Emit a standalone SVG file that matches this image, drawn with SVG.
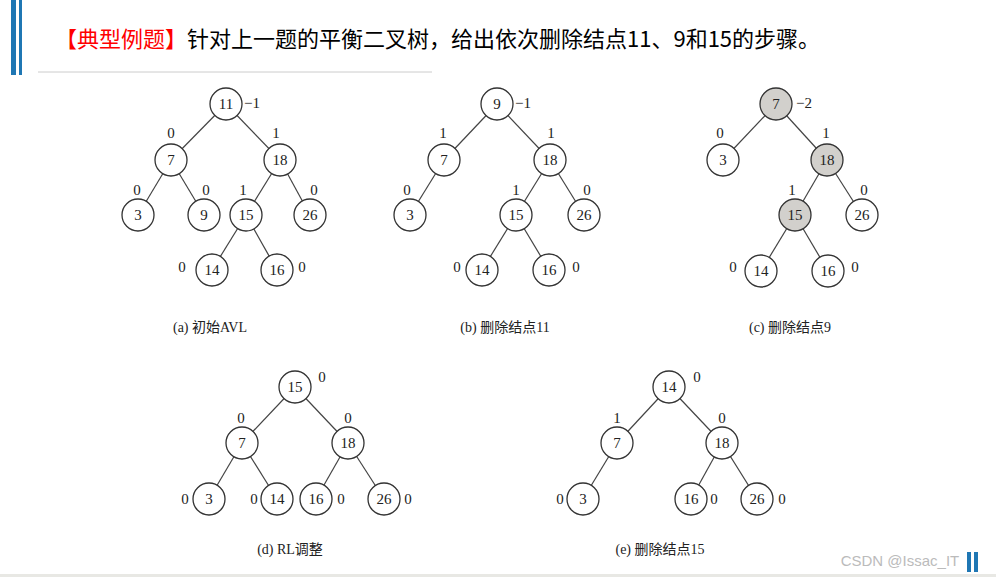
<svg xmlns="http://www.w3.org/2000/svg" width="996" height="577" viewBox="0 0 996 577">
<style>
.n circle{fill:#fff;stroke:#333;stroke-width:1.3}
.g circle{fill:#d2d0cc}
text{font-family:"Liberation Serif",serif;font-size:15px;fill:#222;text-anchor:middle;dominant-baseline:central}
.cap{font-family:"Liberation Serif","Noto Sans CJK SC",serif;font-size:14px}
#edges line{stroke:#444;stroke-width:1.2}
</style>
<rect width="996" height="577" fill="#fff"/>
<rect x="11" y="0" width="5" height="75" fill="#1f77b4"/>
<rect x="19" y="0" width="3" height="75" fill="#1f77b4"/>
<line x1="38" y1="72" x2="432" y2="72" stroke="#ccc"/>
<rect x="0" y="574" width="996" height="3" fill="#e8e8e4"/>
<text x="55" y="37" style="font-family:'Noto Sans CJK SC',sans-serif;font-size:22px;text-anchor:start"><tspan fill="#f00">【典型例题】</tspan><tspan fill="#000">针对上一题的平衡二叉树，给出依次删除结点11、9和15的步骤。</tspan></text>
<g id="edges">
<line x1="226" y1="104" x2="171" y2="160"/><line x1="226" y1="104" x2="280" y2="160"/><line x1="171" y1="160" x2="138" y2="215"/><line x1="171" y1="160" x2="204" y2="215"/><line x1="280" y1="160" x2="246" y2="215"/><line x1="280" y1="160" x2="310" y2="215"/><line x1="246" y1="215" x2="212" y2="270"/><line x1="246" y1="215" x2="277" y2="270"/>
<line x1="497" y1="104" x2="444" y2="160"/><line x1="497" y1="104" x2="550" y2="160"/><line x1="444" y1="160" x2="410" y2="215"/><line x1="550" y1="160" x2="516" y2="215"/><line x1="550" y1="160" x2="584" y2="215"/><line x1="516" y1="215" x2="482" y2="270"/><line x1="516" y1="215" x2="549" y2="270"/>
<line x1="776" y1="104" x2="723" y2="160"/><line x1="776" y1="104" x2="827" y2="160"/><line x1="827" y1="160" x2="795" y2="215"/><line x1="827" y1="160" x2="862" y2="215"/><line x1="795" y1="215" x2="761" y2="271"/><line x1="795" y1="215" x2="828" y2="271"/>
<line x1="295" y1="387" x2="242" y2="443"/><line x1="295" y1="387" x2="348" y2="443"/><line x1="242" y1="443" x2="209" y2="499"/><line x1="242" y1="443" x2="277" y2="499"/><line x1="348" y1="443" x2="316" y2="499"/><line x1="348" y1="443" x2="384" y2="499"/>
<line x1="669" y1="387" x2="617" y2="443"/><line x1="669" y1="387" x2="722" y2="443"/><line x1="617" y1="443" x2="583" y2="499"/><line x1="722" y1="443" x2="691" y2="499"/><line x1="722" y1="443" x2="757" y2="499"/>
</g>
<g id="a11" class="n"><circle cx="226" cy="104" r="16"/><text x="226" y="104">11</text></g>
<g id="a7" class="n"><circle cx="171" cy="160" r="16"/><text x="171" y="160">7</text></g>
<g id="a18" class="n"><circle cx="280" cy="160" r="16"/><text x="280" y="160">18</text></g>
<g id="a3" class="n"><circle cx="138" cy="215" r="16"/><text x="138" y="215">3</text></g>
<g id="a9" class="n"><circle cx="204" cy="215" r="16"/><text x="204" y="215">9</text></g>
<g id="a15" class="n"><circle cx="246" cy="215" r="16"/><text x="246" y="215">15</text></g>
<g id="a26" class="n"><circle cx="310" cy="215" r="16"/><text x="310" y="215">26</text></g>
<g id="a14" class="n"><circle cx="212" cy="270" r="16"/><text x="212" y="270">14</text></g>
<g id="a16" class="n"><circle cx="277" cy="270" r="16"/><text x="277" y="270">16</text></g>
<g id="b9" class="n"><circle cx="497" cy="104" r="16"/><text x="497" y="104">9</text></g>
<g id="b7" class="n"><circle cx="444" cy="160" r="16"/><text x="444" y="160">7</text></g>
<g id="b18" class="n"><circle cx="550" cy="160" r="16"/><text x="550" y="160">18</text></g>
<g id="b3" class="n"><circle cx="410" cy="215" r="16"/><text x="410" y="215">3</text></g>
<g id="b15" class="n"><circle cx="516" cy="215" r="16"/><text x="516" y="215">15</text></g>
<g id="b26" class="n"><circle cx="584" cy="215" r="16"/><text x="584" y="215">26</text></g>
<g id="b14" class="n"><circle cx="482" cy="270" r="16"/><text x="482" y="270">14</text></g>
<g id="b16" class="n"><circle cx="549" cy="270" r="16"/><text x="549" y="270">16</text></g>
<g id="c7" class="n g"><circle cx="776" cy="104" r="16"/><text x="776" y="104">7</text></g>
<g id="c3" class="n"><circle cx="723" cy="160" r="16"/><text x="723" y="160">3</text></g>
<g id="c18" class="n g"><circle cx="827" cy="160" r="16"/><text x="827" y="160">18</text></g>
<g id="c15" class="n g"><circle cx="795" cy="215" r="16"/><text x="795" y="215">15</text></g>
<g id="c26" class="n"><circle cx="862" cy="215" r="16"/><text x="862" y="215">26</text></g>
<g id="c14" class="n"><circle cx="761" cy="271" r="16"/><text x="761" y="271">14</text></g>
<g id="c16" class="n"><circle cx="828" cy="271" r="16"/><text x="828" y="271">16</text></g>
<g id="d15" class="n"><circle cx="295" cy="387" r="16"/><text x="295" y="387">15</text></g>
<g id="d7" class="n"><circle cx="242" cy="443" r="16"/><text x="242" y="443">7</text></g>
<g id="d18" class="n"><circle cx="348" cy="443" r="16"/><text x="348" y="443">18</text></g>
<g id="d3" class="n"><circle cx="209" cy="499" r="16"/><text x="209" y="499">3</text></g>
<g id="d14" class="n"><circle cx="277" cy="499" r="16"/><text x="277" y="499">14</text></g>
<g id="d16" class="n"><circle cx="316" cy="499" r="16"/><text x="316" y="499">16</text></g>
<g id="d26" class="n"><circle cx="384" cy="499" r="16"/><text x="384" y="499">26</text></g>
<g id="e14" class="n"><circle cx="669" cy="387" r="16"/><text x="669" y="387">14</text></g>
<g id="e7" class="n"><circle cx="617" cy="443" r="16"/><text x="617" y="443">7</text></g>
<g id="e18" class="n"><circle cx="722" cy="443" r="16"/><text x="722" y="443">18</text></g>
<g id="e3" class="n"><circle cx="583" cy="499" r="16"/><text x="583" y="499">3</text></g>
<g id="e16" class="n"><circle cx="691" cy="499" r="16"/><text x="691" y="499">16</text></g>
<g id="e26" class="n"><circle cx="757" cy="499" r="16"/><text x="757" y="499">26</text></g>
<g id="labels">
<text x="252" y="103">−1</text><text x="171" y="133">0</text><text x="276" y="133">1</text><text x="137" y="190">0</text><text x="206" y="190">0</text><text x="243" y="190">1</text><text x="314" y="190">0</text><text x="182" y="267">0</text><text x="302" y="267">0</text>
<text x="523" y="103">−1</text><text x="443" y="133">1</text><text x="551" y="133">1</text><text x="407" y="190">0</text><text x="516" y="190">1</text><text x="587" y="190">0</text><text x="457" y="267">0</text><text x="576" y="267">0</text>
<text x="804" y="103">−2</text><text x="720" y="133">0</text><text x="826" y="133">1</text><text x="792" y="190">1</text><text x="864" y="190">0</text><text x="733" y="267">0</text><text x="855" y="267">0</text>
<text x="322" y="377">0</text><text x="241" y="418">0</text><text x="348" y="418">0</text><text x="185" y="499">0</text><text x="254" y="499">0</text><text x="341" y="499">0</text><text x="408" y="499">0</text>
<text x="697" y="377">0</text><text x="617" y="418">1</text><text x="722" y="418">0</text><text x="560" y="499">0</text><text x="714" y="499">0</text><text x="782" y="499">0</text>
</g>
<text class="cap" x="210" y="327">(a) 初始AVL</text>
<text class="cap" x="505" y="327">(b) 删除结点11</text>
<text class="cap" x="790" y="327">(c) 删除结点9</text>
<text class="cap" x="290" y="549">(d) RL调整</text>
<text class="cap" x="660" y="549">(e) 删除结点15</text>
<text x="900" y="560" style="font-family:'Liberation Sans',sans-serif;font-size:15px;fill:#bbb">CSDN @Issac_IT</text>
<rect x="967" y="552" width="4" height="20" fill="#1f77b4"/><rect x="974" y="552" width="4" height="20" fill="#1f77b4"/>
</svg>
